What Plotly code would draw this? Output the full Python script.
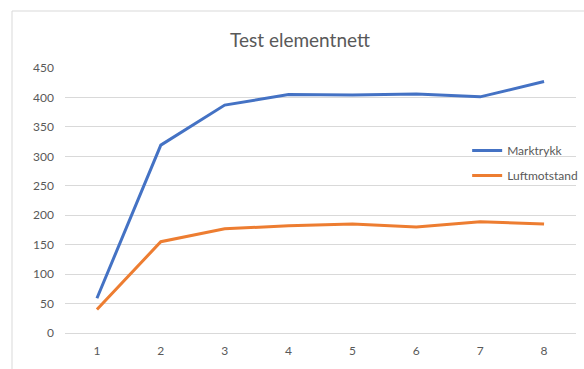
import plotly.graph_objects as go

# Category labels along the x axis
categories = ["1", "2", "3", "4", "5", "6", "7", "8"]

# Series values
marktrykk = [59, 319, 387, 405, 404, 406, 401, 427]
luftmotstand = [40, 155, 177, 182, 185, 180, 189, 185]

# Y axis ticks
y_ticks = [0, 50, 100, 150, 200, 250, 300, 350, 400, 450]

BLUE = "#4472C4"
ORANGE = "#ED7D31"
GREY_TEXT = "#595959"
FONT = "Lato, Open Sans, Noto Sans, sans-serif"

fig = go.Figure()
fig.add_trace(go.Scatter(
    x=categories, y=marktrykk, name="Marktrykk", mode="lines",
    line=dict(color=BLUE, width=3), legendgroup="a",
))
fig.add_trace(go.Scatter(
    x=categories, y=luftmotstand, name="Luftmotstand", mode="lines",
    line=dict(color=ORANGE, width=3), legendgroup="b",
))

fig.update_layout(
    width=584, height=369,
    margin=dict(l=65, r=8, t=68, b=36, autoexpand=False),
    paper_bgcolor="white", plot_bgcolor="white",
    font=dict(family=FONT, color=GREY_TEXT, size=12),
    title=dict(
        text="Test elementnett", x=300 / 584, xanchor="center",
        y=1 - 40 / 369, yanchor="middle", yref="container",
        font=dict(size=19, color=GREY_TEXT, family=FONT),
    ),
    xaxis=dict(
        type="category", range=[-0.5, 7.5], showgrid=False,
        showline=False, zeroline=False, ticks="",
        tickfont=dict(size=12, color=GREY_TEXT),
        ticklabelstandoff=9,
    ),
    yaxis=dict(
        range=[0, 450], tickvals=y_ticks, showgrid=True,
        gridcolor="#D9D9D9", gridwidth=1, zeroline=True,
        zerolinecolor="#D9D9D9", zerolinewidth=1, showline=False,
        tickfont=dict(size=12, color=GREY_TEXT), ticks="",
        ticklabelstandoff=10,
    ),
    legend=dict(
        x=0.787, xanchor="left", y=0.743, yanchor="top",
        bgcolor="rgba(0,0,0,0)", font=dict(size=12, color=GREY_TEXT),
        tracegroupgap=6, itemwidth=30,
    ),
    showlegend=True,
    shapes=[dict(
        type="rect", xref="paper", yref="paper",
        x0=(12 - 65) / 511, x1=1.1, y0=-0.3, y1=(333 - 11) / 265,
        line=dict(color="#D9D9D9", width=1), fillcolor="rgba(0,0,0,0)",
        layer="below",
    )],
)

fig.write_html("out.html")
